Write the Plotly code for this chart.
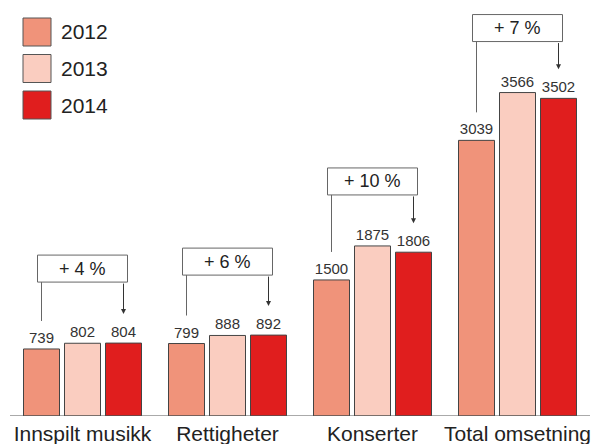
import plotly.graph_objects as go

categories = ["Innspilt musikk", "Rettigheter", "Konserter", "Total omsetning"]
years = ["2012", "2013", "2014"]
values_2012 = [739, 799, 1500, 3039]
values_2013 = [802, 888, 1875, 3566]
values_2014 = [804, 892, 1806, 3502]
changes = ["+ 4 %", "+ 6 %", "+ 10 %", "+ 7 %"]

colors = ["#F0937A", "#FACDC0", "#E01E1E"]
series = [values_2012, values_2013, values_2014]

# layout constants (pixels)
W, H = 592, 444
L, R, T, B = 10, 2, 0, 28
PW, PH = W - L - R, H - T - B
PX_PER_UNIT = 0.0907
YMAX = PH / PX_PER_UNIT
SLOT = 41 / 145.0  # bar slot in category units
BOX_GAP_PX = [61, 60, 51, 51]
BOX_H_PX = 27
FONT = "Liberation Sans, Arial, sans-serif"

def u(px):
    return px / PX_PER_UNIT

fig = go.Figure()
xs = list(range(len(categories)))
for yr, vals, col in zip(years, series, colors):
    fig.add_trace(go.Bar(
        x=xs, y=vals, name=yr,
        marker=dict(color=col, line=dict(color="#444444", width=1)),
        text=[str(v) for v in vals], textposition="outside",
        textfont=dict(family=FONT, size=15, color="#333333"),
        cliponaxis=False, showlegend=False,
    ))

shapes = []
annotations = []
for i in xs:
    top = max(values_2012[i], values_2013[i], values_2014[i])
    yb = top + u(BOX_GAP_PX[i])
    yt = yb + u(BOX_H_PX)
    xl = i - SLOT
    xr = i + SLOT
    pad = 4 / 145.0
    shapes.append(dict(type="rect", xref="x", yref="y", x0=xl - pad, x1=xr + pad,
                       y0=yb, y1=yt, line=dict(color="#666666", width=1),
                       fillcolor="white", layer="above"))
    annotations.append(dict(x=i, y=(yb + yt) / 2, xref="x", yref="y", text=changes[i],
                            showarrow=False, font=dict(family=FONT, size=18, color="#222222")))
    shapes.append(dict(type="line", xref="x", yref="y", x0=xl, x1=xl,
                       y0=yb, y1=values_2012[i] + u(28),
                       line=dict(color="#666666", width=1)))
    annotations.append(dict(x=xr, y=values_2014[i] + u(29), xref="x", yref="y",
                            ax=xr, ay=yb, axref="x", ayref="y", text="",
                            showarrow=True, arrowhead=2, arrowsize=1, arrowwidth=1,
                            arrowcolor="#333333"))

# baseline
shapes.append(dict(type="line", xref="paper", yref="y", x0=0, x1=1, y0=0, y1=0,
                   line=dict(color="#555555", width=1)))

# custom legend
def pxx(X):
    return (X - L) / PW

def pxy(Y):
    return (H - B - Y) / PH

leg_tops = [18, 54.5, 91]
for yr, col, ty in zip(years, colors, leg_tops):
    shapes.append(dict(type="rect", xref="paper", yref="paper",
                       x0=pxx(23), x1=pxx(51), y0=pxy(ty + 28), y1=pxy(ty),
                       fillcolor=col, line=dict(color="#555555", width=1)))
    annotations.append(dict(x=pxx(59), y=pxy(ty + 14), xref="paper", yref="paper",
                            text=yr, showarrow=False, xanchor="left", yanchor="middle",
                            font=dict(family=FONT, size=21, color="#222222")))

fig.update_layout(
    width=W, height=H,
    margin=dict(l=L, r=R, t=T, b=B),
    paper_bgcolor="white", plot_bgcolor="white",
    barmode="group", bargap=22 / 145.0, bargroupgap=5 / 41.0,
    shapes=shapes, annotations=annotations,
    xaxis=dict(tickmode="array", tickvals=xs, ticktext=categories, range=[-0.5, 3.5],
               showgrid=False, zeroline=False, showline=False, ticks="",
               ticklabelstandoff=3,
               tickfont=dict(family=FONT, size=21, color="#222222")),
    yaxis=dict(range=[0, YMAX], visible=False),
)

fig.write_html("out.html", config={"displayModeBar": False},
               post_script="document.body.style.margin='0';document.body.style.overflow='hidden';")
